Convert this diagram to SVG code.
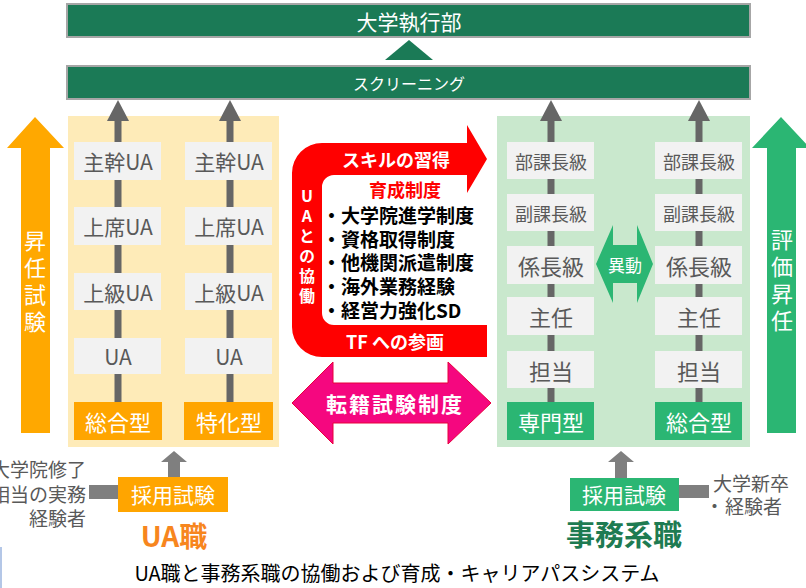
<svg xmlns="http://www.w3.org/2000/svg" width="806" height="588" viewBox="0 0 806 588">
<style>
text{font-family:"Noto Sans CJK JP","Noto Sans",sans-serif;dominant-baseline:central;text-anchor:middle}
.bar{fill:#1b7a56;stroke:#a6a6a6;stroke-width:2}
.wt{fill:#ffffff}
.gbox{fill:#f2f2f2}
.gt{fill:#595959}
.ob{fill:#ffa500}
.grb{fill:#2bb673}
.conn{stroke:#666666;stroke-width:7}
.head{fill:#666666}
.lg{fill:#7f7f7f}
.b{font-weight:bold}
.vt{writing-mode:vertical-rl;text-orientation:upright}
</style>
<rect x="0" y="547" width="2" height="41" fill="#b4c7e7"/>
<g id="top-executive">
<rect class="bar" x="67" y="4" width="683" height="33"/>
<text class="wt" x="409" y="21" font-size="21">大学執行部</text>
</g>
<g id="screening">
<rect class="bar" x="67" y="66" width="683" height="33"/>
<text class="wt" x="409" y="83" font-size="16">スクリーニング</text>
</g>
<g id="ua-panel"><rect x="68" y="116" width="211" height="331" fill="#feebb8"/></g>
<g id="jimu-panel"><rect x="497" y="116" width="253" height="331" fill="#c9e8cd"/></g>
<g id="connectors">
<polygon points="385,60 409,40 433,60" fill="#1b7a56"/>
<line class="conn" x1="118" y1="118" x2="118" y2="402"/>
<line class="conn" x1="230" y1="118" x2="230" y2="402"/>
<line class="conn" x1="551" y1="118" x2="551" y2="402"/>
<line class="conn" x1="699" y1="118" x2="699" y2="402"/>
<polygon class="head" points="107,121 118,100 129,121"/>
<polygon class="head" points="219,121 230,100 241,121"/>
<polygon class="head" points="540,121 551,100 562,121"/>
<polygon class="head" points="688,121 699,100 710,121"/>
<polygon class="lg" points="168,477 168,462 161,462 174,451 187,462 180,462 180,477"/>
<polygon class="lg" points="615,478 615,462 608,462 621,451 634,462 627,462 627,478"/>
<rect class="lg" x="89" y="485" width="29" height="14"/>
<rect class="lg" x="679" y="485" width="30" height="13"/>
</g>
<g id="ua-col1">
<rect class="gbox" x="74" y="142" width="87" height="38"/><text class="gt" x="118" y="161" font-size="21">主幹UA</text>
<rect class="gbox" x="74" y="207" width="87" height="38"/><text class="gt" x="118" y="226" font-size="21">上席UA</text>
<rect class="gbox" x="74" y="273" width="87" height="37"/><text class="gt" x="118" y="292" font-size="21">上級UA</text>
<rect class="gbox" x="74" y="338" width="87" height="36"/><text class="gt" x="118" y="356" font-size="21">UA</text>
<rect class="ob" x="74" y="402" width="88" height="38"/><text class="wt" x="118" y="421" font-size="22">総合型</text>
</g>
<g id="ua-col2">
<rect class="gbox" x="185" y="142" width="87" height="38"/><text class="gt" x="229" y="161" font-size="21">主幹UA</text>
<rect class="gbox" x="185" y="207" width="87" height="38"/><text class="gt" x="229" y="226" font-size="21">上席UA</text>
<rect class="gbox" x="185" y="273" width="87" height="37"/><text class="gt" x="229" y="292" font-size="21">上級UA</text>
<rect class="gbox" x="185" y="338" width="87" height="36"/><text class="gt" x="229" y="356" font-size="21">UA</text>
<rect class="ob" x="184" y="402" width="89" height="38"/><text class="wt" x="229" y="421" font-size="22">特化型</text>
</g>
<g id="jimu-col1">
<rect class="gbox" x="507" y="142" width="87" height="37"/><text class="gt" x="551" y="161" font-size="18">部課長級</text>
<rect class="gbox" x="507" y="194" width="87" height="37"/><text class="gt" x="551" y="213" font-size="18">副課長級</text>
<rect class="gbox" x="507" y="246" width="87" height="38"/><text class="gt" x="551" y="265" font-size="22">係長級</text>
<rect class="gbox" x="507" y="297" width="87" height="38"/><text class="gt" x="551" y="316" font-size="22">主任</text>
<rect class="gbox" x="507" y="351" width="87" height="37"/><text class="gt" x="551" y="370" font-size="22">担当</text>
<rect class="grb" x="507" y="402" width="87" height="38"/><text class="wt" x="551" y="421" font-size="22">専門型</text>
</g>
<g id="jimu-col2">
<rect class="gbox" x="655" y="142" width="87" height="37"/><text class="gt" x="699" y="161" font-size="18">部課長級</text>
<rect class="gbox" x="655" y="194" width="87" height="37"/><text class="gt" x="699" y="213" font-size="18">副課長級</text>
<rect class="gbox" x="655" y="246" width="87" height="38"/><text class="gt" x="699" y="265" font-size="22">係長級</text>
<rect class="gbox" x="655" y="297" width="87" height="38"/><text class="gt" x="699" y="316" font-size="22">主任</text>
<rect class="gbox" x="655" y="351" width="87" height="37"/><text class="gt" x="699" y="370" font-size="22">担当</text>
<rect class="grb" x="655" y="402" width="87" height="38"/><text class="wt" x="699" y="421" font-size="22">総合型</text>
</g>
<g id="idou">
<polygon class="grb" points="596,264 613,225 613,245 637,245 637,225 653,264 637,303 637,283 613,283 613,303"/>
<text class="wt" x="625" y="264" font-size="17">異動</text>
</g>
<g id="shonin-shiken">
<polygon points="21,433 21,148 7,148 35,117 64,148 50,148 50,433" fill="#ffa800"/>
<text class="wt vt" x="35" y="284" font-size="22" letter-spacing="5">昇任試験</text>
</g>
<g id="hyoka-shonin">
<polygon points="767,433 767,148 752,148 781,117 810,148 796,148 796,433" fill="#2bb673"/>
<text class="wt vt" x="782" y="283" font-size="22" letter-spacing="5">評価昇任</text>
</g>
<g id="ikusei">
<path d="M292 173 A30 30 0 0 1 322 143 L467 143 L467 125 L487 159 L467 193 L467 175 L334 175 A12 12 0 0 0 322 187 L322 313 A12 12 0 0 0 334 325 L487 325 L487 357 L322 357 A30 30 0 0 1 292 327 Z" fill="#ff0000"/>
<text class="wt b" x="396" y="159" font-size="18">スキルの習得</text>
<text class="b" x="405" y="189" font-size="18" fill="#ff0000">育成制度</text>
<g class="b" font-size="19" fill="#000000">
<text x="322" y="214" style="text-anchor:start">・大学院進学制度</text>
<text x="322" y="238" style="text-anchor:start">・資格取得制度</text>
<text x="322" y="261" style="text-anchor:start">・他機関派遣制度</text>
<text x="322" y="285" style="text-anchor:start">・海外業務経験</text>
<text x="322" y="309" style="text-anchor:start">・経営力強化SD</text>
</g>
<text class="wt b" x="395" y="341" font-size="18">TF への参画</text>
<text class="wt b vt" x="307" y="248" font-size="16" letter-spacing="4">UAとの協働</text>
</g>
<g id="tenseki">
<polygon points="292,403 333,362 333,383 448,383 448,362 491,403 448,444 448,423 333,423 333,444" fill="#f5077f" stroke="#e8003d" stroke-width="1"/>
<text class="wt b" x="395" y="403" font-size="21" letter-spacing="2">転籍試験制度</text>
</g>
<g id="ua-saiyo">
<rect class="ob" x="118" y="477" width="110" height="35"/>
<text class="wt" x="173" y="494" font-size="21">採用試験</text>
<g class="gt" font-size="19">
<text x="86" y="468" style="text-anchor:end">大学院修了</text>
<text x="86" y="493" style="text-anchor:end">相当の実務</text>
<text x="86" y="517" style="text-anchor:end">経験者</text>
</g>
<text class="b" x="174" y="535" font-size="28" fill="#f7861e">UA職</text>
</g>
<g id="jimu-saiyo">
<rect class="grb" x="570" y="478" width="109" height="33"/>
<text class="wt" x="624" y="494" font-size="21">採用試験</text>
<text class="gt" x="713" y="482" font-size="19" style="text-anchor:start">大学新卒</text>
<text class="gt" x="705" y="505" font-size="19" style="text-anchor:start"><tspan>・</tspan><tspan x="725">経験者</tspan></text>
<text class="b" x="624" y="533" font-size="29" fill="#1e7b52">事務系職</text>
</g>
<g id="caption">
<text x="397" y="572" font-size="20" fill="#000000">UA職と事務系職の協働および育成・キャリアパスシステム</text>
</g>
</svg>
